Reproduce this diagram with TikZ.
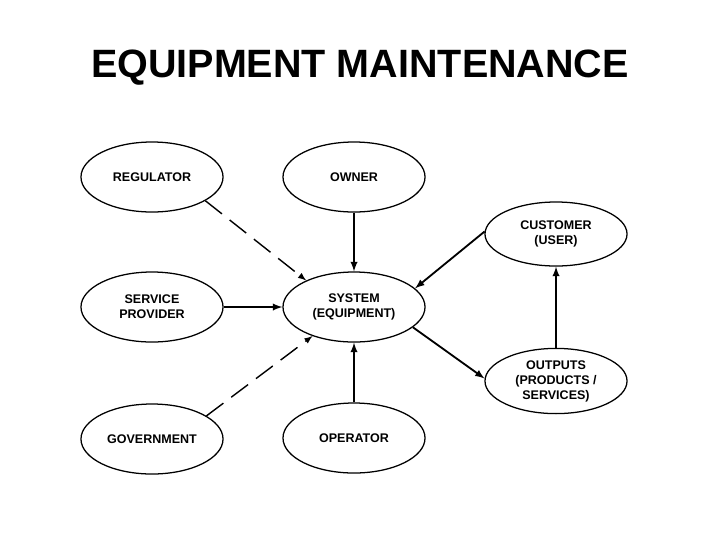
\documentclass[tikz,border=0pt]{standalone}
\usepackage{fontspec}
\setmainfont{Liberation Sans}
\usepackage{tikz}
\usetikzlibrary{shapes, shapes.geometric, arrows, positioning}

\begin{document}
\begin{tikzpicture}[x=0.025cm, y=-0.025cm,
    actor/.style={draw, ellipse, line width=0.9pt, inner sep=0pt,
      minimum width=3.55cm, minimum height=1.75cm, align=center,
      font=\fontsize{8.9}{10.7}\selectfont\bfseries},
    flow/.style={-latex, line width=1.3pt},
    loose/.style={-latex, line width=1pt, dash pattern=on 15pt off 7pt}]
    \useasboundingbox (0,0) rectangle (720,540);
    % Title
    \node[font=\fontsize{28.1}{32}\selectfont\bfseries] (title) at (360,68) {EQUIPMENT MAINTENANCE};
    % Actors
    \node[actor] (regulator) at (152,177) {REGULATOR};
    \node[actor] (owner) at (354,177) {OWNER};
    \node[actor] (provider) at (152,307) {SERVICE\\PROVIDER};
    \node[actor] (system) at (354,307) {SYSTEM\\(EQUIPMENT)};
    \node[actor] (government) at (152,439) {GOVERNMENT};
    \node[actor] (operator) at (354,438) {OPERATOR};
    \node[actor, minimum height=1.6cm] (customer) at (556,234) {CUSTOMER\\(USER)};
    \node[actor, minimum height=1.63cm] (outputs) at (556,381) {OUTPUTS\\(PRODUCTS /\\SERVICES)};
    % Solid links
    \draw[flow] (owner.south) -- (system.north);
    \draw[flow] (provider.east) -- (system.west);
    \draw[flow] (operator.north) -- (system.south);
    \draw[flow] (customer.178) -- (system.17);
    \draw[flow] (system.-19) -- (outputs.178);
    \draw[flow] (outputs.north) -- (customer.south);
    % Dashed links
    \draw[loose] (regulator.-24) -- (system.151);
    \draw[loose] (government.23) -- (system.215);
\end{tikzpicture}
\end{document}
